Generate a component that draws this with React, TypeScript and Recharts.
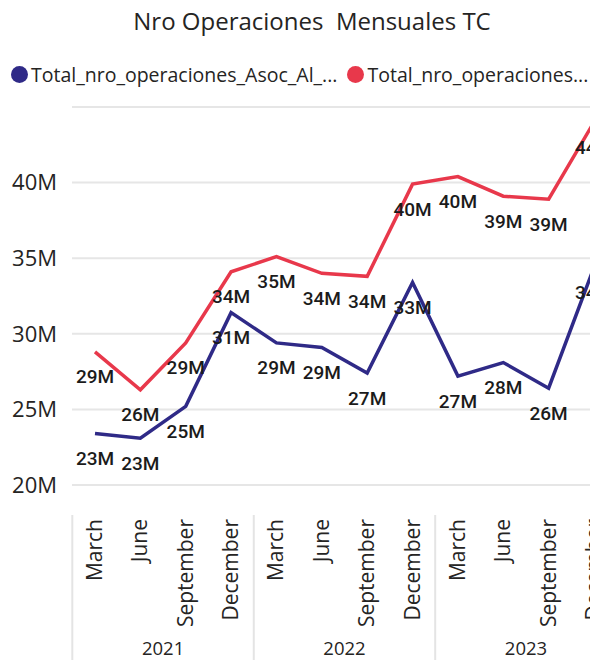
import { LineChart, Line, XAxis, YAxis, CartesianGrid, LabelList } from "recharts";

const years = ["2021", "2022", "2023"];
const months = ["March", "June", "September", "December"];

// millions
const asocValues = [23.4, 23.1, 25.2, 31.4, 29.4, 29.1, 27.4, 33.4, 27.2, 28.1, 26.4, 34.4];
const totalValues = [28.8, 26.3, 29.4, 34.1, 35.1, 34.0, 33.8, 39.9, 40.4, 39.1, 38.9, 44.0];

const yTicks = [20, 25, 30, 35, 40];

const BLUE = "#2F2A87";
const RED = "#E8384B";
const STEP = 45.4;

const data = years.flatMap((year, yi) =>
  months.map((month, mi) => ({
    key: `${year}-${month}`,
    asoc: asocValues[yi * 4 + mi] * 1e6,
    total: totalValues[yi * 4 + mi] * 1e6,
  }))
);

const fmtM = (v: number) => `${Math.round(v / 1e6)}M`;

function MonthTick(props: any) {
  const { x, y, payload, index } = props;
  const [year, month] = String(payload.value).split("-");
  const mi = index % 4;
  return (
    <g>
      <text
        transform={`translate(${x + 7},${y + 26}) rotate(-90)`}
        textAnchor="end"
        fontSize={21}
        fill="#252423"
        fontFamily="'Open Sans', sans-serif"
      >
        {month}
      </text>
      {mi === 0 && (
        <line x1={x - STEP / 2} x2={x - STEP / 2} y1={y + 22} y2={y + 180} stroke="#e4e4e4" strokeWidth={2} />
      )}
      {mi === 1 && (
        <text x={x + STEP / 2} y={y + 162} textAnchor="middle" fontSize={18.5} fill="#252423" fontFamily="'Open Sans', sans-serif">
          {year}
        </text>
      )}
    </g>
  );
}

function PointLabel(props: any) {
  const { x, y, value } = props;
  return (
    <text
      x={x}
      y={y + 25}
      textAnchor="middle"
      dominantBaseline="central"
      fontSize={19}
      fontWeight={500}
      fill="#1b1b1b"
      fontFamily="Roboto, sans-serif"
    >
      {fmtM(value)}
    </text>
  );
}

export default function App() {
  return (
    <div
      style={{
        position: "fixed",
        left: 0,
        top: 0,
        width: 590,
        height: 660,
        overflow: "hidden",
        background: "#fff",
        fontFamily: "'Open Sans', sans-serif",
      }}
    >
      <div style={{ position: "absolute", top: 4, left: 0, width: 624, textAlign: "center", fontSize: 24, color: "#252423" }}>
        Nro Operaciones&nbsp;&nbsp;Mensuales TC
      </div>
      <div style={{ position: "absolute", top: 61, left: 11, display: "flex", alignItems: "center", fontSize: 19.5, color: "#252423", whiteSpace: "nowrap" }}>
        <span style={{ width: 17, height: 17, borderRadius: "50%", background: BLUE, display: "inline-block", marginRight: 3 }} />
        <span>Total_nro_operaciones_Asoc_Al_...</span>
        <span style={{ width: 17, height: 17, borderRadius: "50%", background: RED, display: "inline-block", marginLeft: 10, marginRight: 3 }} />
        <span>Total_nro_operaciones...</span>
      </div>
      <LineChart width={640} height={660} data={data} margin={{ top: 107, right: 23, bottom: 0, left: 0 }}>
        <CartesianGrid vertical={false} stroke="#e6e6e6" strokeWidth={2} />
        <XAxis
          dataKey="key"
          interval={0}
          axisLine={false}
          tickLine={false}
          height={175}
          padding={{ left: 23, right: 23 }}
          tick={<MonthTick />}
        />
        <YAxis
          width={72}
          domain={[20e6, 45e6]}
          ticks={yTicks.map((t) => t * 1e6)}
          tickFormatter={fmtM}
          axisLine={false}
          tickLine={false}
          tickSize={0}
          tickMargin={15}
          tick={{ fill: "#252423", fontSize: 22, fontFamily: "'Open Sans', sans-serif" }}
        />
        <Line type="linear" dataKey="total" stroke={RED} strokeWidth={3.5} dot={false} isAnimationActive={false}>
          <LabelList dataKey="total" content={<PointLabel />} />
        </Line>
        <Line type="linear" dataKey="asoc" stroke={BLUE} strokeWidth={3.5} dot={false} isAnimationActive={false}>
          <LabelList dataKey="asoc" content={<PointLabel />} />
        </Line>
      </LineChart>
    </div>
  );
}
